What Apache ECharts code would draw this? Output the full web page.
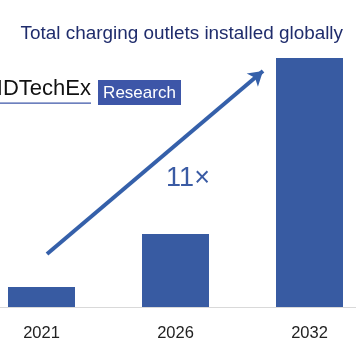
<!DOCTYPE html>
<html><head><meta charset="utf-8">
<script src="https://cdn.jsdelivr.net/npm/echarts@6/dist/echarts.min.js"></script>
<style>html,body{margin:0;padding:0;background:#fff}#c{width:356px;height:364px}</style>
</head><body><div id="c"></div>
<script>
const categories = ['2021', '2026', '2032'];
const categoryPositions = [0, 1, 2];
const outlets = [2.0, 7.3, 24.9];
const titleText = 'Total charging outlets installed globally';
const growthLabel = '11×';

const chart = echarts.init(document.getElementById('c'), null, {renderer: 'canvas'});
chart.setOption({
  animation: false,
  backgroundColor: '#fff',
  title: {
    text: titleText, right: 8, top: 19,
    textStyle: {color: '#1f2c6c', fontSize: 18.9, fontWeight: 'normal', fontFamily: 'Liberation Sans, Arial, sans-serif'}
  },
  grid: {left: 0, right: 0, top: 57, bottom: 57, containLabel: false},
  xAxis: {
    type: 'value', min: -0.3097, max: 2.347,
    splitLine: {show: false},
    axisLine: {show: true, onZero: false, lineStyle: {color: '#d9d9d9', width: 1}},
    axisTick: {show: false},
    axisLabel: {
      color: '#222', fontSize: 16.5, margin: 18, fontFamily: 'Liberation Sans, Arial, sans-serif',
      customValues: categoryPositions,
      formatter: v => categories[Math.round(v)] || ''
    }
  },
  yAxis: {type: 'value', min: 0, max: 25, show: false, splitLine: {show: false}},
  series: [{
    type: 'bar', data: categoryPositions.map((p, i) => [p, outlets[i]]), barWidth: 67,
    itemStyle: {color: '#385ba2'},
    markLine: {
      silent: true, animation: false,
      label: {show: false},
      lineStyle: {color: '#3560aa', width: 4, type: 'solid'},
      symbolSize: [13, 14],
      data: [[{x: 47, y: 254, symbol: 'none'}, {x: 263, y: 71, symbol: 'arrow'}]]
    }
  }],
  graphic: [
    {type: 'text', right: 265, top: 78, style: {text: 'IDTechEx', fill: '#111', font: '22px Liberation Sans, Arial, sans-serif'}},
    {type: 'rect', shape: {x: 0, y: 102.5, width: 91, height: 1.2}, style: {fill: '#3d56a8'}},
    {type: 'rect', shape: {x: 98, y: 80, width: 83, height: 25}, style: {fill: '#3d56a8'}},
    {type: 'text', x: 139.5, y: 93, style: {text: 'Research', fill: '#fff', font: '17px Liberation Sans, Arial, sans-serif', textAlign: 'center', textVerticalAlign: 'middle'}},
    {type: 'text', x: 188, y: 179, style: {text: growthLabel, fill: '#3a5ba4', font: '27px Liberation Sans, Arial, sans-serif', textAlign: 'center', textVerticalAlign: 'middle'}}
  ]
});
</script></body></html>
